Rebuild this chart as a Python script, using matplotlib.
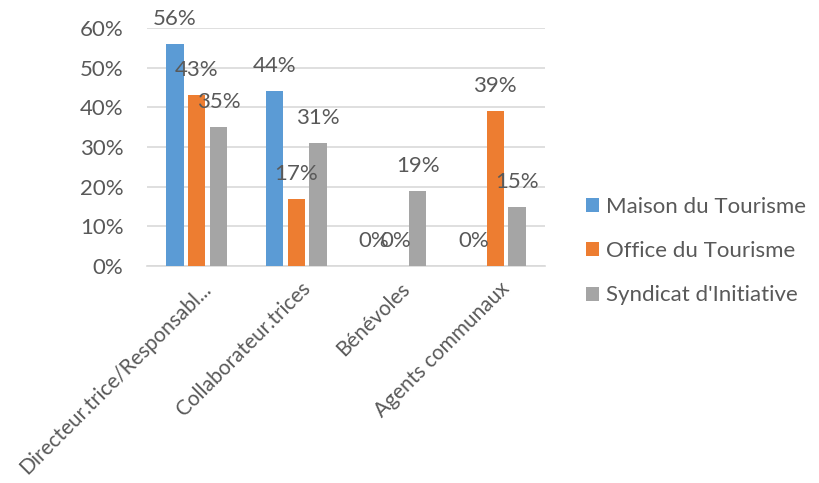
import matplotlib.pyplot as plt
import matplotlib.transforms as mtransforms
from matplotlib.patches import Patch
import numpy as np

# données
categories = ['Directeur.trice/Responsabl...', 'Collaborateur.trices', 'Bénévoles', 'Agents communaux']
series_names = ['Maison du Tourisme', 'Office du Tourisme', "Syndicat d'Initiative"]
maison = [0.56, 0.44, 0.0, 0.0]
office = [0.43, 0.17, 0.0, 0.39]
syndicat = [0.35, 0.31, 0.19, 0.15]
maison_labels = ['56%', '44%', '0%', '0%']
office_labels = ['43%', '17%', '0%', '39%']
syndicat_labels = ['35%', '31%', '19%', '15%']
yticks = [0, 0.1, 0.2, 0.3, 0.4, 0.5, 0.6]

colors = ['#5b9bd5', '#ed7d31', '#a5a5a5']
text_color = '#595959'
grid_color = '#d9d9d9'
fs = 16

plt.rcParams['font.family'] = ['Lato', 'DejaVu Sans']

fig = plt.figure(figsize=(8.2, 4.83), dpi=100)
ax = fig.add_axes([147 / 820, 1 - 266 / 483, 398 / 820, 238 / 483])

x = np.arange(len(categories))
offsets = [-0.22, 0.0, 0.22]
width = 0.175

all_vals = [maison, office, syndicat]
all_labels = [maison_labels, office_labels, syndicat_labels]
for vals, labs, off, col in zip(all_vals, all_labels, offsets, colors):
    bars = ax.bar(x + off, vals, width, color=col, zorder=3)
    for b, lab in zip(bars, labs):
        ax.annotate(lab, (b.get_x() + b.get_width() / 2, b.get_height()),
                    xytext=(0, 25), textcoords='offset pixels',
                    ha='center', va='center', fontsize=fs, color=text_color,
                    zorder=4, annotation_clip=False)

ax.set_xlim(-0.5, len(categories) - 0.5)
ax.set_ylim(0, 0.6)
ax.set_yticks(yticks)
ax.set_yticklabels([f'{int(round(v * 100))}%' for v in yticks])
ax.yaxis.grid(True, color=grid_color, lw=1.2, zorder=0)
ax.set_axisbelow(True)
for s in ['top', 'right', 'left']:
    ax.spines[s].set_visible(False)
ax.spines['bottom'].set_color(grid_color)
ax.spines['bottom'].set_linewidth(1.2)
ax.tick_params(axis='y', length=0, pad=17, labelsize=fs, labelcolor=text_color)
ax.tick_params(axis='x', length=0, pad=9, labelsize=15, labelcolor=text_color)
ax.set_xticks(x)
ax.set_xticklabels(categories, rotation=45, ha='right', va='top', rotation_mode='anchor')
# Excel puts the end of the rotated label a bit right of the tick
shift = mtransforms.ScaledTranslation(4 / 100, 0, fig.dpi_scale_trans)
for lbl in ax.get_xticklabels():
    lbl.set_transform(lbl.get_transform() + shift)

handles = [Patch(facecolor=c, edgecolor='none') for c in colors]
fig.legend(handles, series_names, loc='center left', bbox_to_anchor=(586 / 820, 1 - 251 / 483),
           frameon=False, fontsize=fs, labelcolor=text_color, handlelength=0.6,
           handleheight=0.6, handletextpad=0.3, labelspacing=1.1, borderpad=0,
           borderaxespad=0)

fig.savefig('out.png', dpi=100)
